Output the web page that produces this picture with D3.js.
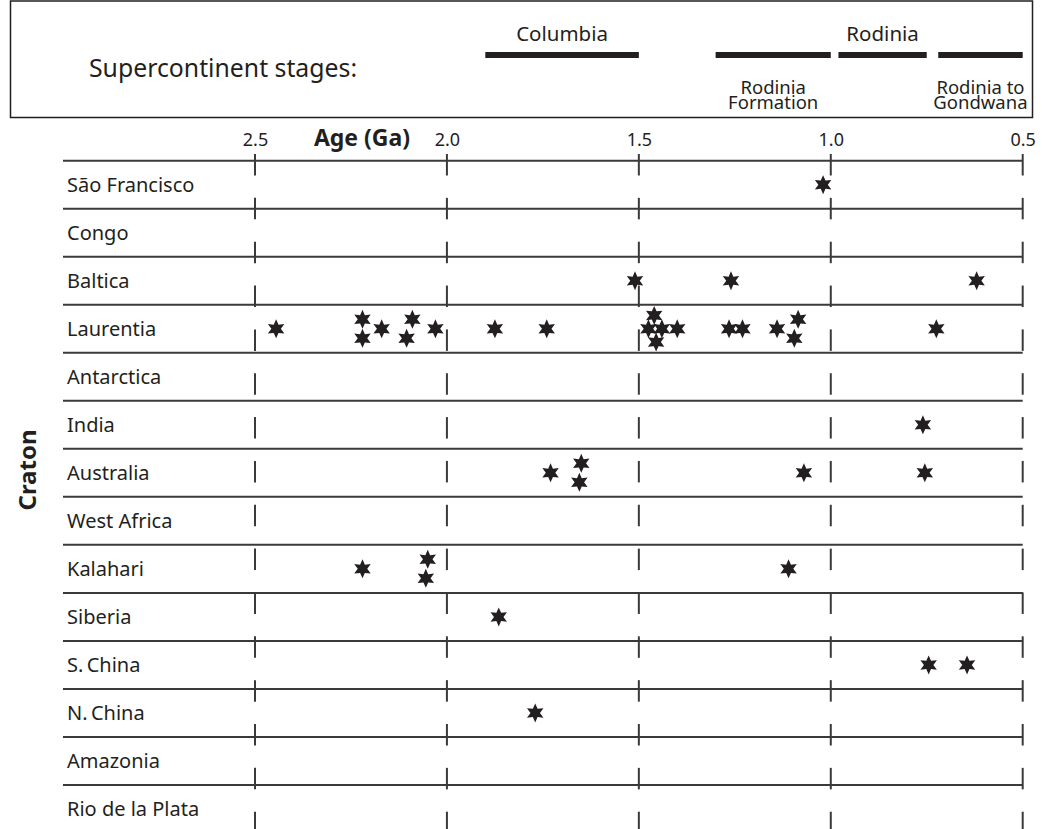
<!DOCTYPE html>
<html>
<head>
<meta charset="utf-8">
<script src="https://cdn.jsdelivr.net/npm/d3@7"></script>
<style>
  body { margin: 0; background: #fff; }
  text { font-family: "Noto Sans", "Open Sans", sans-serif; fill: #231f20; }
</style>
</head>
<body>
<div id="wrapper"></div>
<script>
// Data
const cratons = [
  "São Francisco", "Congo", "Baltica", "Laurentia", "Antarctica", "India",
  "Australia", "West Africa", "Kalahari", "Siberia", "S.\u2009China",
  "N.\u2009China", "Amazonia", "Rio de la Plata",
];
const gridAges = [2.5, 2.0, 1.5, 1.0, 0.5];

// one entry per star: craton, age (Ga), stacking slot inside the row
const pointCraton = [
  "São Francisco",
  "Baltica", "Baltica", "Baltica",
  "Laurentia", "Laurentia", "Laurentia", "Laurentia", "Laurentia", "Laurentia",
  "Laurentia", "Laurentia", "Laurentia", "Laurentia", "Laurentia", "Laurentia",
  "Laurentia", "Laurentia", "Laurentia", "Laurentia", "Laurentia", "Laurentia",
  "Laurentia", "Laurentia",
  "India",
  "Australia", "Australia", "Australia", "Australia", "Australia",
  "Kalahari", "Kalahari", "Kalahari", "Kalahari",
  "Siberia",
  "S.\u2009China", "S.\u2009China",
  "N.\u2009China",
];
const pointAge = [
  1.02,
  1.51, 1.26, 0.62,
  2.445, 2.22, 2.22, 2.17, 2.09, 2.105, 2.03, 1.875, 1.74,
  1.46, 1.475, 1.44, 1.40, 1.455, 1.265, 1.23, 1.14, 1.085, 1.095, 0.725,
  0.76,
  1.73, 1.65, 1.655, 1.07, 0.755,
  2.22, 2.05, 2.055, 1.11,
  1.865,
  0.745, 0.645,
  1.77,
];
const pointSlot = [
  0,
  0, 0, 0,
  0, -1, 1, 0, -1, 1, 0, 0, 0,
  -1.4, 0, 0, 0, 1.4, 0, 0, 0, -1, 1, 0,
  0,
  0, -1, 1, 0, 0,
  0, -1, 1, 0,
  0,
  0, 0,
  0,
];

const stageNames = ["Columbia", "Rodinia\nFormation", "Rodinia", "Rodinia to\nGondwana"];
const stageStart = [1.9, 1.3, 0.98, 0.72];
const stageEnd = [1.5, 1.0, 0.75, 0.5];
const stageLabelSide = ["above", "below", "above", "below"];

// Dimensions
const width = 1043;
const height = 829;
const ink = "#231f20";
const lineColor = "#3a3a3a";

const wrapper = d3
  .select("#wrapper")
  .append("svg")
  .attr("width", width)
  .attr("height", height);

// Scales
const xScale = d3.scaleLinear().domain([2.5, 0.5]).range([255, 1022.7]);
const yScale = d3
  .scaleBand()
  .domain(cratons)
  .range([160.7, 160.7 + cratons.length * 48.02]);
const slotScale = d3.scaleLinear().domain([-1, 1]).range([-9.5, 9.5]);

// Supercontinent box
const box = wrapper.append("g").attr("class", "stages");
box
  .append("rect")
  .attr("x", 10.5)
  .attr("y", 1)
  .attr("width", 1022)
  .attr("height", 116.5)
  .attr("fill", "none")
  .attr("stroke", ink)
  .attr("stroke-width", 1.5);

box
  .append("text")
  .attr("x", 89)
  .attr("y", 77)
  .style("font-size", "24.8px")
  .text("Supercontinent stages:");

const stageIdx = d3.range(stageNames.length);
box
  .selectAll(".stageBar")
  .data(stageIdx)
  .join("rect")
  .attr("class", "stageBar")
  .attr("x", (i) => xScale(stageStart[i]))
  .attr("y", 52)
  .attr("width", (i) => xScale(stageEnd[i]) - xScale(stageStart[i]))
  .attr("height", 6)
  .attr("fill", ink);

// one text per label line, lower labels packed tight like the original
const stageLines = stageIdx.flatMap((i) =>
  stageNames[i].split("\n").map((t, k) => ({ t, k, i }))
);
box
  .selectAll(".stageLabel")
  .data(stageLines)
  .join("text")
  .attr("class", "stageLabel")
  .attr("text-anchor", "middle")
  .attr("x", (d) => (xScale(stageStart[d.i]) + xScale(stageEnd[d.i])) / 2)
  .attr("y", (d) => (stageLabelSide[d.i] === "above" ? 41 : 94 + d.k * 15))
  .style("font-size", (d) => (stageLabelSide[d.i] === "above" ? "20.5px" : "18.5px"))
  .text((d) => d.t);

// Axis labels
const xAxisGenerator = d3
  .axisTop(xScale)
  .tickValues(gridAges)
  .tickSize(0)
  .tickPadding(0)
  .tickFormat(d3.format(".1f"));

const xAxis = wrapper
  .append("g")
  .attr("class", "x-axis")
  .attr("transform", "translate(0, 146)")
  .call(xAxisGenerator);
xAxis.select(".domain").remove();
xAxis
  .selectAll("text")
  .attr("fill", ink)
  .style("font-family", '"Noto Sans", sans-serif')
  .style("font-size", "18px");

wrapper
  .append("text")
  .attr("x", 362)
  .attr("y", 146)
  .attr("text-anchor", "middle")
  .style("font-size", "23px")
  .style("font-weight", "bold")
  .text("Age (Ga)");

wrapper
  .append("text")
  .attr("transform", "translate(36, 470) rotate(-90)")
  .attr("text-anchor", "middle")
  .style("font-size", "24px")
  .style("font-weight", "bold")
  .text("Craton");

// Row separators
const bounds = wrapper.append("g").attr("class", "rows");
bounds
  .selectAll(".rowLine")
  .data(cratons)
  .join("line")
  .attr("class", "rowLine")
  .attr("x1", 63)
  .attr("x2", xScale(0.5))
  .attr("y1", (d) => yScale(d))
  .attr("y2", (d) => yScale(d))
  .attr("stroke", lineColor)
  .attr("stroke-width", 2);

bounds
  .selectAll(".rowLabel")
  .data(cratons)
  .join("text")
  .attr("class", "rowLabel")
  .attr("x", 67)
  .attr("y", (d) => yScale(d) + yScale.bandwidth() / 2 + 7)
  .style("font-size", "20px")
  .text((d) => d);

// Grid ticks (their own spacing, a bit tighter than the rows)
const tickRows = d3.range(16);
const tickY = d3.scaleLinear().domain([0, 15]).range([154, 811.7]);
const tickCells = gridAges.flatMap((a) => tickRows.map((r) => ({ a, r })));
bounds
  .selectAll(".gridTick")
  .data(tickCells)
  .join("line")
  .attr("class", "gridTick")
  .attr("x1", (d) => xScale(d.a))
  .attr("x2", (d) => xScale(d.a))
  .attr("y1", (d) => tickY(d.r))
  .attr("y2", (d) => tickY(d.r) + 21.5)
  .attr("stroke", lineColor)
  .attr("stroke-width", 2);

// Six-pointed star symbol
const star6 = {
  draw(context, size) {
    const R = Math.sqrt(size / 1.6);
    const r = R * 0.5;
    for (let k = 0; k < 12; k++) {
      const ang = (k * Math.PI) / 6;
      const rad = k % 2 === 0 ? R : r;
      const px = Math.cos(ang) * rad;
      const py = Math.sin(ang) * rad;
      if (k === 0) context.moveTo(px, py);
      else context.lineTo(px, py);
    }
    context.closePath();
  },
};
const starPath = d3.symbol().type(star6).size(1.6 * 9.5 * 9.5);

const points = d3.range(pointAge.length);
bounds
  .selectAll(".star")
  .data(points)
  .join("path")
  .attr("class", "star")
  .attr("d", starPath)
  .attr(
    "transform",
    (i) =>
      `translate(${xScale(pointAge[i])}, ${
        yScale(pointCraton[i]) + yScale.bandwidth() / 2 + slotScale(pointSlot[i])
      }) rotate(-90)`
  )
  .attr("fill", ink);
</script>
</body>
</html>
